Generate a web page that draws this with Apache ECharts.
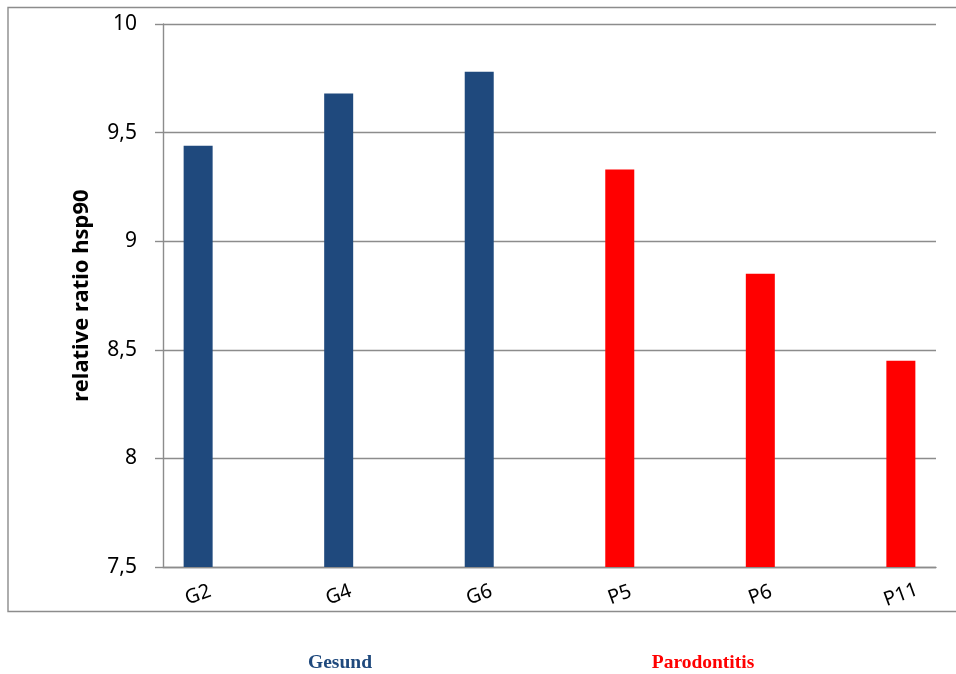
<!DOCTYPE html>
<html>
<head>
<meta charset="utf-8">
<title>relative ratio hsp90</title>
<script src="https://cdn.jsdelivr.net/npm/echarts@6/dist/echarts.min.js"></script>
<style>
  html, body { margin: 0; padding: 0; background: #ffffff; }
  #chart { width: 956px; height: 674px; }
</style>
</head>
<body>
<div id="chart"></div>
<script>
// Samples and their hsp90 ratios
const categories = ['G2', 'G4', 'G6', 'P5', 'P6', 'P11'];
const gesundValues = [9.44, 9.68, 9.78, null, null, null];
const parodontitisValues = [null, null, null, 9.33, 8.85, 8.45];
const yTicks = [7.5, 8, 8.5, 9, 9.5, 10];
const groupLabels = ['Gesund', 'Parodontitis'];

const yMin = yTicks[0];
const yMax = yTicks[yTicks.length - 1];
const yStep = yTicks[1] - yTicks[0];
const slots = categories.map((_, i) => i);

const gridLineColor = '#8c8c8c';
const labelFont = '"Noto Sans", "Open Sans", sans-serif';

// pair each sample slot with its value, skipping empty ones
const toPoints = vals => vals
  .map((v, i) => (v == null ? null : [slots[i], v]))
  .filter(p => p !== null);

const chart = echarts.init(document.getElementById('chart'), null, { renderer: 'canvas' });

const option = {
  backgroundColor: '#ffffff',
  animation: false,
  grid: { left: 163, top: 24, width: 773, height: 543, containLabel: false },
  xAxis: {
    type: 'value',
    min: -0.25,
    max: slots[slots.length - 1] + 0.25,
    axisLine: { show: true, onZero: false, lineStyle: { color: gridLineColor, width: 1.4 } },
    axisTick: { show: false },
    splitLine: { show: false },
    axisLabel: {
      customValues: slots,
      formatter: v => categories[Math.round(v)],
      rotate: 20,
      align: 'center',
      verticalAlign: 'middle',
      margin: 28,
      fontSize: 20,
      color: '#000000',
      fontFamily: labelFont
    }
  },
  yAxis: {
    type: 'value',
    min: yMin,
    max: yMax,
    interval: yStep,
    name: 'relative ratio hsp90',
    nameLocation: 'middle',
    nameGap: 70,
    nameRotate: 90,
    nameTextStyle: {
      fontSize: 22,
      fontWeight: 'bold',
      color: '#000000',
      fontFamily: labelFont
    },
    axisLine: { show: true, onZero: false, lineStyle: { color: gridLineColor, width: 1.4 } },
    axisTick: { show: true, length: 8, lineStyle: { color: gridLineColor, width: 1.4 } },
    splitLine: { show: true, lineStyle: { color: gridLineColor, width: 1.4 } },
    axisLabel: {
      margin: 26,
      fontSize: 21,
      color: '#000000',
      fontFamily: labelFont,
      formatter: v => String(v).replace('.', ',')
    }
  },
  series: [
    {
      name: groupLabels[0],
      type: 'bar',
      data: toPoints(gesundValues),
      barWidth: 29,
      barGap: '-100%',
      itemStyle: { color: '#1f497d' },
      z: 3
    },
    {
      name: groupLabels[1],
      type: 'bar',
      data: toPoints(parodontitisValues),
      barWidth: 29,
      barGap: '-100%',
      itemStyle: { color: '#ff0000' },
      z: 3
    }
  ],
  graphic: [
    {
      // outer chart frame, its right edge runs past the canvas
      type: 'rect',
      shape: { x: 8, y: 7.5, width: 1000, height: 604 },
      style: { fill: null, stroke: '#8c8c8c', lineWidth: 1.4 },
      silent: true,
      z: -1
    },
    {
      type: 'text',
      x: 340,
      y: 663,
      style: {
        text: groupLabels[0],
        font: 'bold 19.5px "Liberation Serif", "DejaVu Serif", serif',
        fill: '#1f497d',
        align: 'center',
        verticalAlign: 'middle'
      }
    },
    {
      type: 'text',
      x: 703,
      y: 663,
      style: {
        text: groupLabels[1],
        font: 'bold 19.5px "Liberation Serif", "DejaVu Serif", serif',
        fill: '#ff0000',
        align: 'center',
        verticalAlign: 'middle'
      }
    }
  ]
};

chart.setOption(option);
</script>
</body>
</html>
